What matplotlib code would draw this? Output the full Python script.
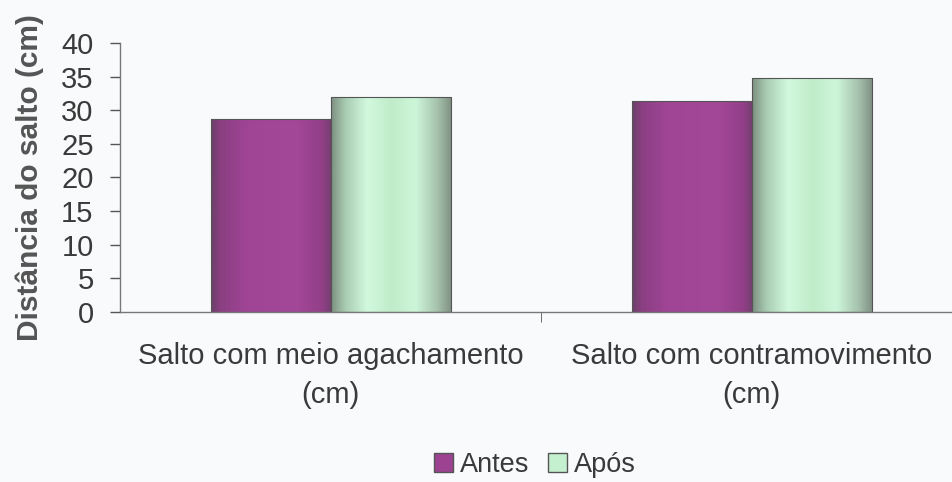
import numpy as np
import matplotlib
matplotlib.use("Agg")
import matplotlib.pyplot as plt
from matplotlib.colors import LinearSegmentedColormap

plt.rcParams['font.family'] = ['Liberation Sans', 'DejaVu Sans']

categorias = ["Salto com meio agachamento\n(cm)", "Salto com contramovimento\n(cm)"]
antes = [28.7, 31.3]
apos = [31.9, 34.8]
series = ["Antes", "Após"]

# cores ao longo da largura da barra (esquerda -> direita)
roxo = LinearSegmentedColormap.from_list("roxo", [
    (0.0, "#6a3f68"), (0.08, "#8b3f82"), (0.3, "#a04596"),
    (0.7, "#a34898"), (0.92, "#923f88"), (1.0, "#733f6e")])
verde = LinearSegmentedColormap.from_list("verde", [
    (0.0, "#7e8f82"), (0.12, "#a9cdb2"), (0.3, "#d2f9de"),
    (0.5, "#c0ecca"), (0.7, "#cdf6d9"), (0.88, "#a6c2ad"), (1.0, "#7f8f82")])

fundo = "#f8fafb"
fig = plt.figure(figsize=(9.52, 4.82), dpi=100, facecolor=fundo)
ax = fig.add_axes([0.126, 0.353, 0.885, 0.558])
ax.set_facecolor(fundo)

x = np.arange(len(categorias))
w = 0.285
b1 = ax.bar(x - w / 2, antes, w, color="#9c4290", edgecolor="#555555", linewidth=0.8, label=series[0])
b2 = ax.bar(x + w / 2, apos, w, color="#c5f0d0", edgecolor="#555555", linewidth=0.8, label=series[1])

grad = np.linspace(0, 1, 256).reshape(1, -1)
for barras, cmap in ((b1, roxo), (b2, verde)):
    for p in barras:
        x0, y0 = p.get_x(), p.get_y()
        im = ax.imshow(grad, cmap=cmap, aspect="auto", zorder=p.get_zorder(),
                       extent=[x0, x0 + p.get_width(), y0, y0 + p.get_height()])
        im.set_clip_path(p)
        p.set_facecolor("none")
        p.set_zorder(im.get_zorder() + 0.1)

ax.set_xlim(-0.5, 1.5)
ax.set_ylim(0, 40)
ax.set_yticks(range(0, 41, 5))
ax.set_xticks(x)
ax.set_xticklabels(categorias, fontsize=21, color="#3a3a3a", linespacing=1.5)
ax.tick_params(axis="x", length=0, pad=22)
ax.set_xticks([0.5], minor=True)
ax.tick_params(axis="x", which="minor", length=7, color="#555555", direction="out")
ax.tick_params(axis="y", labelsize=21, colors="#555555", length=7, width=1, pad=12)
for t in ax.get_yticklabels():
    t.set_color("#3a3a3a")

for s in ("top", "right"):
    ax.spines[s].set_visible(False)
for s in ("left", "bottom"):
    ax.spines[s].set_color("#777777")
    ax.spines[s].set_linewidth(1.0)

ax.set_ylabel("Distância do salto (cm)", fontsize=21.5, fontweight="bold", color="#555555", labelpad=12)

h1 = plt.Rectangle((0, 0), 1, 1, facecolor="#9c4290", edgecolor="#555555")
h2 = plt.Rectangle((0, 0), 1, 1, facecolor="#c5f0d0", edgecolor="#555555")
fig.legend([h1, h2], series, loc="center", bbox_to_anchor=(0.562, 0.035), ncol=2,
           frameon=False, fontsize=19.5, handlelength=0.7, handleheight=0.7,
           handletextpad=0.25, columnspacing=0.7, labelcolor="#3a3a3a")

fig.savefig("out.png", dpi=100, facecolor=fundo)
